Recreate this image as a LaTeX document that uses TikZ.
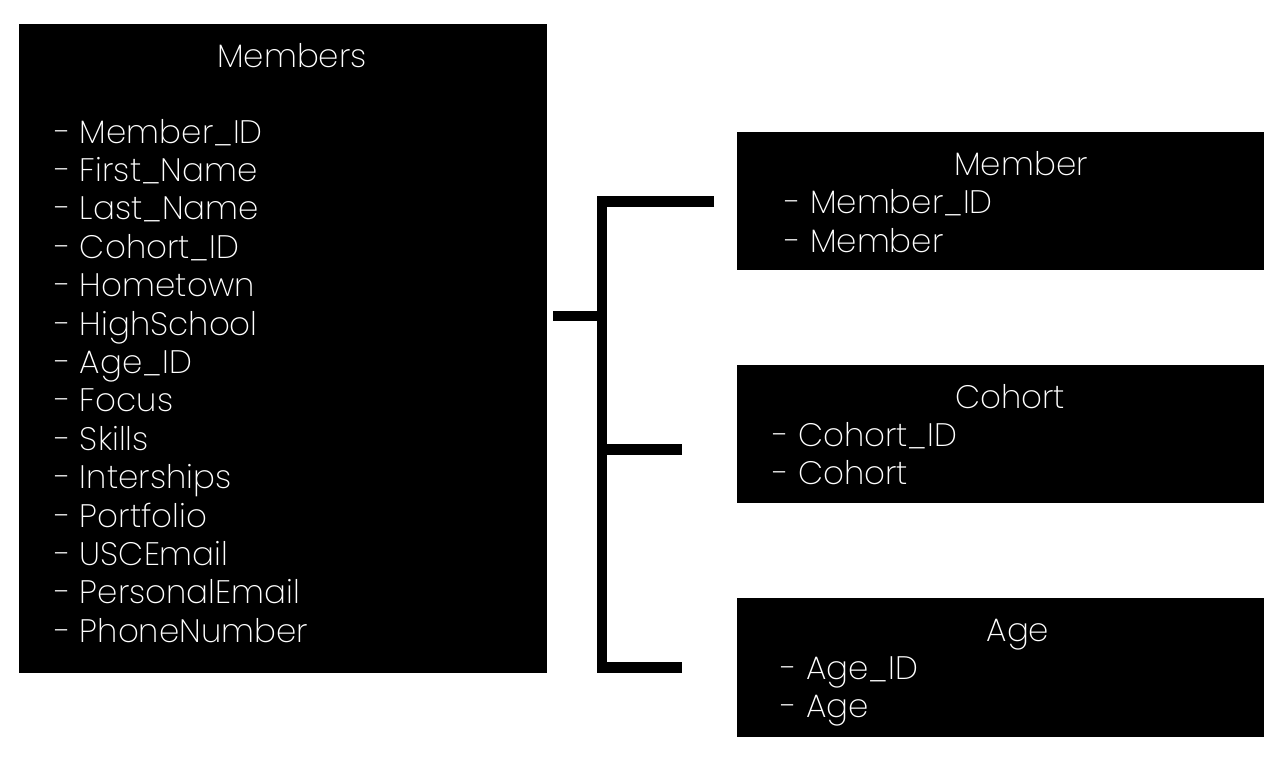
\documentclass[tikz,border=0pt]{standalone}
\usepackage{fontspec}
\setmainfont{Poppins}[UprightFont=* ExtraLight]
\begin{document}
\begin{tikzpicture}[x=1pt,y=-1pt,
  tbl/.style={fill=black,draw=none,inner sep=0pt,anchor=north west},
  ttl/.style={text=white,font=\fontsize{32.5}{38}\selectfont,anchor=base,inner sep=0pt},
  fld/.style={text=white,font=\fontsize{32.5}{38}\selectfont,anchor=base west,inner sep=0pt},
  conn/.style={line width=10.5pt,line cap=butt,line join=miter,draw=black}]
\useasboundingbox (0,0) rectangle (1286,764);
% boxes
\node[tbl,minimum width=528pt,minimum height=649pt] (members) at (19,24) {};
\node[tbl,minimum width=527pt,minimum height=138pt] (member) at (737,132) {};
\node[tbl,minimum width=527pt,minimum height=138pt] (cohort) at (737,365) {};
\node[tbl,minimum width=527pt,minimum height=139pt] (age) at (737,598) {};
% Members text
\node[ttl] (mt) at (292,67) {Members};
\foreach \t [count=\i from 0] in {Member\_ID,First\_Name,Last\_Name,Cohort\_ID,Hometown,HighSchool,Age\_ID,Focus,Skills,Interships,Portfolio,USCEmail,PersonalEmail,PhoneNumber}
  \node[fld] (mf\i) at (55,143+38.4*\i) {- \t};
% Member
\node[ttl] (mbt) at (1021,175) {Member};
\node[fld] (mb1) at (785,213) {- Member\_ID};
\node[fld] (mb2) at (785,252) {- Member};
% Cohort
\node[ttl] (ct) at (1010,408) {Cohort};
\node[fld] (c1) at (773,446) {- Cohort\_ID};
\node[fld] (c2) at (773,484) {- Cohort};
% Age
\node[ttl] (at) at (1018,641) {Age};
\node[fld] (a1) at (781,679) {- Age\_ID};
\node[fld] (a2) at (781,717) {- Age};
% connectors
\coordinate (src) at (553,316);
\coordinate (jsrc) at (602,316);
\coordinate (ttop) at (602,201.5);
\coordinate (tmid) at (602,449.5);
\coordinate (tbot) at (602,667.5);
\coordinate (emember) at (714,201.5);
\coordinate (ecohort) at (682,449.5);
\coordinate (eage) at (682,667.5);
\draw[conn] (emember) -- (ttop) -- (tbot) -- (eage);
\draw[conn] (src) -- (jsrc);
\draw[conn] (tmid) -- (ecohort);
\end{tikzpicture}
\end{document}
